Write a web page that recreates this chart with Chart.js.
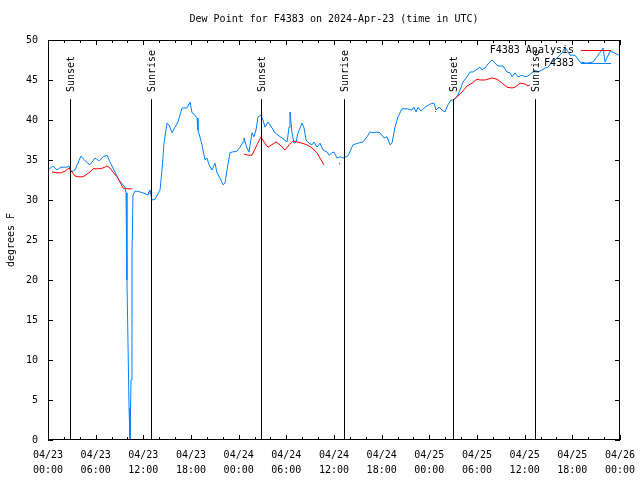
<!DOCTYPE html>
<html lang="en">
<head>
    <meta charset="UTF-8">
    <title>Dew Point for F4383</title>
    <script src="https://cdn.jsdelivr.net/npm/chart.js"></script>
    <style>
        body { margin: 0; background: #fff; }
    </style>
</head>
<body>
    <canvas id="dewChart" width="640" height="480"></canvas>

    <script>
        // x axis: hours since 04/23 00:00 UTC
        const xDates = ['04/23', '04/23', '04/23', '04/23', '04/24', '04/24', '04/24', '04/24', '04/25', '04/25', '04/25', '04/25', '04/26'];
        const xTimes = ['00:00', '06:00', '12:00', '18:00', '00:00', '06:00', '12:00', '18:00', '00:00', '06:00', '12:00', '18:00', '00:00'];

        // Sunrise / sunset markers (hours)
        const sunHours = [2.8, 13.0, 26.8, 37.2, 51.0, 61.3];
        const sunLabels = ['Sunset', 'Sunrise', 'Sunset', 'Sunrise', 'Sunset', 'Sunrise'];

        // F4383 observations
        const obsHours = [0.0, 0.63, 1.13, 1.64, 2.39, 2.64, 2.9, 3.4, 4.15, 4.66, 5.29, 5.92, 6.42, 6.92, 7.43, 7.8, 8.31, 8.94, 9.69, 9.82,
            9.94, 10.07, 10.2, 10.32, 10.45, 10.57, 10.7, 10.95, 11.2, 11.96, 12.59, 12.84, 13.09, 13.47, 14.1, 14.35, 14.6, 14.98, 15.23, 15.61,
            15.99, 16.36, 16.87, 17.5, 17.88, 18.13, 18.5, 18.76, 18.88, 19.39, 19.76, 20.01, 20.27, 20.64, 21.02, 21.27, 21.65, 22.03, 22.28, 22.53,
            22.91, 23.16, 23.79, 24.17, 24.55, 24.67, 25.05, 25.3, 25.68, 25.93, 26.18, 26.44, 26.81, 27.06, 27.32, 27.69, 28.2, 28.57, 28.95, 29.46,
            30.09, 30.34, 30.46, 30.71, 30.97, 31.22, 31.47, 31.97, 32.23, 32.48, 32.85, 33.23, 33.48, 33.86, 34.24, 34.62, 35.12, 35.37, 35.75, 36.0,
            36.38, 36.76, 37.13, 37.76, 38.39, 39.02, 39.65, 40.16, 40.53, 40.91, 41.41, 41.79, 42.3, 42.67, 43.05, 43.3, 43.68, 44.06, 44.56, 45.19,
            45.82, 46.07, 46.32, 46.58, 46.95, 47.46, 48.09, 48.59, 48.84, 49.22, 49.6, 49.97, 50.35, 50.73, 50.98, 51.49, 51.86, 52.24, 52.74, 53.12,
            53.5, 53.88, 54.38, 54.63, 55.01, 55.39, 55.89, 56.27, 56.65, 57.28, 57.78, 58.16, 58.41, 58.79, 59.16, 59.67, 60.04, 60.42, 60.93, 61.3,
            61.68, 62.19, 62.56, 62.94, 63.44, 63.82, 64.2, 64.7, 65.08, 65.33, 65.71, 66.34, 66.97, 67.85, 68.6, 69.24, 69.87, 70.12, 70.75, 71.25, 71.88];
        const obsTemps = [33.75, 34.25, 33.75, 34.1, 34.1, 34.25, 33.5, 33.75, 35.5, 34.9, 34.4, 35.25, 34.9, 35.4, 35.6, 34.75, 33.75, 32.5, 31.6, 30.9,
            20, 12, 4, 0, 7.5, 23, 30.6, 31.1, 31.1, 30.9, 30.6, 31.25, 30, 30.1, 31.25, 33.75, 37.1, 39.6, 39.4, 38.4,
            39.1, 39.75, 41.5, 41.5, 42.25, 40.9, 40.6, 40.25, 38.75, 36.9, 35, 35.25, 34.4, 33.75, 34.6, 33.4, 32.75, 31.9, 32.1, 33.75,
            35.9, 36, 36.1, 36.6, 37.25, 37.75, 36.5, 36, 38.4, 37.9, 38.75, 40.4, 40.6, 40, 39.1, 39.75, 39, 38.4, 38.1, 37.75,
            37.25, 39.1, 41, 38.4, 37.1, 37.25, 38.4, 39.6, 39, 37.5, 37.1, 36.9, 37.25, 36.6, 37.1, 36.25, 36, 35.6, 35.9, 36,
            35.25, 35.4, 35.25, 35.5, 36.9, 37.1, 37.25, 37.9, 38.5, 38.4, 38.5, 38.4, 37.75, 37.9, 36.9, 37.1, 39.1, 40.4, 41.4, 41.4,
            41.25, 41.6, 41, 41.6, 41.1, 41.6, 42, 42.1, 41.25, 41.6, 41.25, 41, 41.9, 42.5, 42.5, 42.9, 43.75, 44.75, 45.4, 46,
            46, 46.25, 46.6, 46.25, 46.5, 47, 47.5, 47.1, 46.75, 46.75, 46, 45.9, 45.4, 45.9, 45.4, 45.6, 45.4, 45.5, 45.9, 46.25,
            46, 46.25, 46.5, 46.6, 47.25, 47.5, 47.9, 48.4, 49.1, 48.75, 48.1, 48.1, 47.25, 47.1, 47.25, 48.1, 49, 47.25, 48.6, 48.4, 48.1];

        // F4383 analysis (null = gap)
        const anaHours = [0.5, 1.13, 1.64, 2.14, 2.64, 3.02, 3.4, 3.78, 4.41, 4.91, 5.29, 5.66, 6.29, 6.92, 7.43, 7.8, 8.18, 8.69, 9.06, 9.44, 9.94, 10.57, 11.5,
            12.59, 12.72, 18.0,
            24.67, 25.18, 25.68, 26.31, 26.81, 27.19, 27.69, 28.32, 28.7, 29.2, 29.83, 30.34, 30.84, 31.34, 31.97, 32.6, 33.23, 33.86, 34.37, 34.74, 35.5,
            36.63, 36.76, 42.0,
            48.72, 48.84, 50.0,
            50.98, 51.49, 52.11, 52.74, 53.37, 54.0, 54.38, 55.01, 55.89, 56.52, 57.15, 57.78, 58.41, 58.79, 59.42, 60.04, 60.42, 60.67];
        const anaTemps = [33.5, 33.4, 33.4, 33.6, 34, 33.5, 33, 32.9, 32.9, 33.25, 33.5, 33.9, 33.9, 34, 34.25, 34, 33.5, 32.9, 32.25, 31.5, 31.4, 31.4, null,
            31, 30.9, null,
            35.75, 35.6, 35.6, 36.9, 37.9, 37.25, 36.6, 37, 37.25, 36.9, 36.25, 36.9, 37.4, 37.25, 37.1, 36.9, 36.5, 35.9, 35, 34.4, null,
            34.6, 34.5, null,
            41.1, 41.0, null,
            42.5, 42.9, 43.5, 44.25, 44.6, 45.1, 45, 45, 45.25, 45.1, 44.6, 44.1, 44, 44.1, 44.6, 44.5, 44.25, 44.4];

        const chartTitle = 'Dew Point for F4383 on 2024-Apr-23 (time in UTC)';
        const FONT = { family: "'DejaVu Sans Mono', monospace", size: 10 };

        // gnuplot-style frame, inward ticks, title, sun markers and key
        const framePlugin = {
            id: 'frame',
            afterDraw(chart) {
                const { ctx, chartArea: a, scales: { x, y } } = chart;
                ctx.save();
                ctx.strokeStyle = '#000';
                ctx.lineWidth = 1;
                ctx.font = `${FONT.size}px ${FONT.family}`;
                ctx.fillStyle = '#000';

                // title, centred over the plot area
                ctx.textAlign = 'center';
                ctx.textBaseline = 'middle';
                ctx.fillText(chartTitle, (a.left + a.right) / 2, 19);

                // sunrise / sunset lines
                sunHours.forEach((h, i) => {
                    const px = Math.round(x.getPixelForValue(h)) + 0.5;
                    ctx.beginPath();
                    ctx.moveTo(px, y.getPixelForValue(42.6));
                    ctx.lineTo(px, a.bottom);
                    ctx.stroke();
                    ctx.save();
                    ctx.translate(px + 1, 92);
                    ctx.rotate(-Math.PI / 2);
                    ctx.textAlign = 'left';
                    ctx.textBaseline = 'middle';
                    ctx.fillText(sunLabels[i], 0, 0);
                    ctx.restore();
                });

                // frame
                ctx.strokeRect(a.left + 0.5, a.top + 0.5, a.right - a.left - 1, a.bottom - a.top - 1);

                // x ticks (every 2 h, major every 6 h)
                ctx.beginPath();
                for (let h = 0; h <= 72; h += 2) {
                    const px = Math.round(x.getPixelForValue(h)) + 0.5;
                    const len = h % 6 === 0 ? 5 : 3;
                    ctx.moveTo(px, a.bottom);
                    ctx.lineTo(px, a.bottom - len);
                    ctx.moveTo(px, a.top);
                    ctx.lineTo(px, a.top + len);
                }
                // y ticks
                for (let v = 0; v <= 50; v += 5) {
                    const py = Math.round(y.getPixelForValue(v)) + 0.5;
                    ctx.moveTo(a.left, py);
                    ctx.lineTo(a.left + 5, py);
                    ctx.moveTo(a.right, py);
                    ctx.lineTo(a.right - 5, py);
                }
                ctx.stroke();

                // key
                ctx.textAlign = 'right';
                ctx.textBaseline = 'middle';
                chart.data.datasets.forEach((ds, i) => {
                    const ky = 50 + i * 13 + 0.5;
                    ctx.fillStyle = '#000';
                    ctx.fillText(ds.label, 574, ky);
                    ctx.strokeStyle = ds.borderColor;
                    ctx.beginPath();
                    ctx.moveTo(581, ky);
                    ctx.lineTo(611, ky);
                    ctx.stroke();
                });
                ctx.restore();
            }
        };

        const ctx = document.getElementById('dewChart').getContext('2d');
        const dewChart = new Chart(ctx, {
            type: 'line',
            data: {
                datasets: [
                    {
                        label: 'F4383 Analysis',
                        data: anaHours.map((h, i) => ({ x: h, y: anaTemps[i] })),
                        borderColor: 'rgb(255, 0, 0)',
                        borderWidth: 1,
                        pointRadius: 0,
                        tension: 0,
                        spanGaps: false
                    },
                    {
                        label: 'F4383',
                        data: obsHours.map((h, i) => ({ x: h, y: obsTemps[i] })),
                        borderColor: 'rgb(0, 128, 255)',
                        borderWidth: 1,
                        pointRadius: 0,
                        tension: 0
                    }
                ]
            },
            options: {
                responsive: false,
                animation: false,
                devicePixelRatio: 1,
                layout: { padding: { top: 40, right: 20 } },
                plugins: {
                    legend: { display: false },
                    tooltip: { enabled: false },
                    title: { display: false }
                },
                scales: {
                    x: {
                        type: 'linear',
                        min: 0,
                        max: 72,
                        grid: { display: false },
                        border: { display: false },
                        ticks: {
                            stepSize: 6,
                            autoSkip: false,
                            maxRotation: 0,
                            color: '#000',
                            padding: 0,
                            font: { ...FONT, lineHeight: 1.5 },
                            callback: v => [xDates[v / 6], xTimes[v / 6]]
                        },
                        afterFit: s => { s.height = 40; }
                    },
                    y: {
                        min: 0,
                        max: 50,
                        grid: { display: false },
                        border: { display: false },
                        ticks: {
                            stepSize: 5,
                            color: '#000',
                            padding: 2,
                            font: FONT
                        },
                        title: {
                            display: true,
                            text: 'degrees F',
                            color: '#000',
                            font: FONT,
                            padding: { top: 5, bottom: 0 }
                        },
                        afterFit: s => { s.width = 48; }
                    }
                }
            },
            plugins: [framePlugin]
        });
    </script>
</body>
</html>
